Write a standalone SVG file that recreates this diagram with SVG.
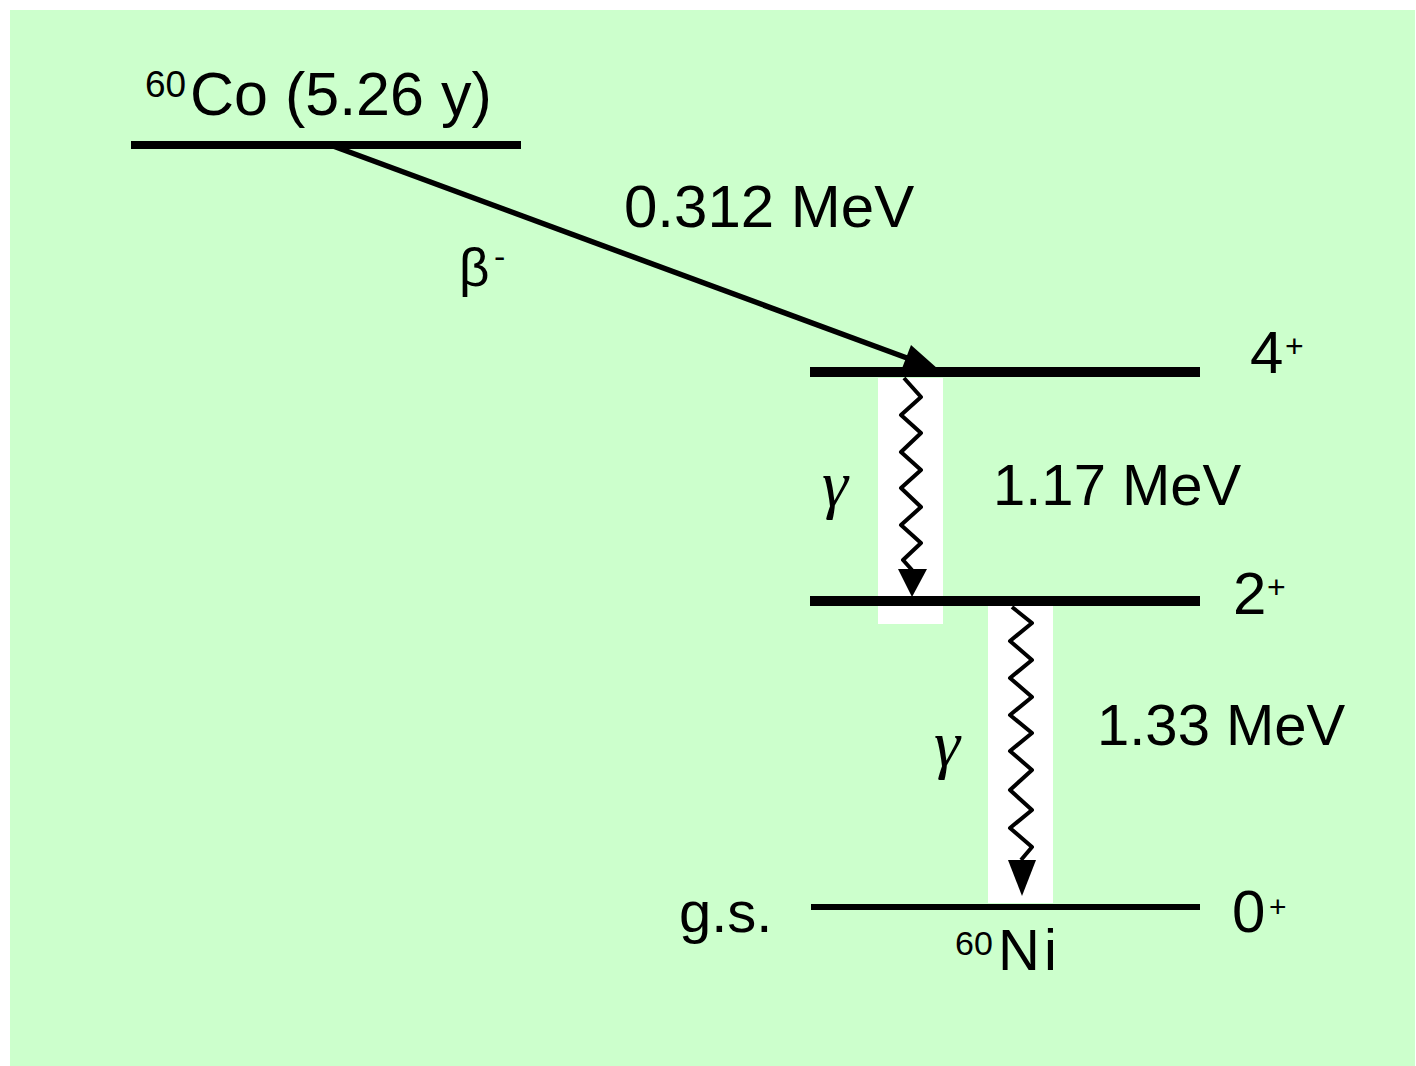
<svg xmlns="http://www.w3.org/2000/svg" width="1416" height="1066" viewBox="0 0 1416 1066">
<style>
.t{font-family:"Liberation Sans",Arial,sans-serif;fill:#000}
.g{font-family:"Liberation Serif","Times New Roman",serif;font-style:italic;fill:#000}
.lvl{stroke:#000;fill:none}
.wave{stroke:#000;stroke-width:4;fill:none;stroke-linejoin:round}
</style>
<rect x="0" y="0" width="1416" height="1066" fill="#ffffff"/>
<rect x="10" y="10" width="1405" height="1056" fill="#ccffcc"/>
<g id="bands">
<rect x="878" y="378" width="65" height="246" fill="#ffffff"/>
<rect x="988" y="606" width="65" height="297" fill="#ffffff"/>
</g>
<g id="co60">
<line class="lvl" x1="131" y1="145" x2="521" y2="145" stroke-width="8"/>
<text class="t" x="145" y="97" font-size="37">60</text>
<text class="t" x="190" y="115" font-size="61">Co (5.26 y)</text>
</g>
<g id="level4">
<line class="lvl" x1="810" y1="372" x2="1200" y2="372" stroke-width="10"/>
<text class="t" x="1250" y="373" font-size="60">4</text>
<text class="t" x="1285" y="357" font-size="32">+</text>
</g>
<g id="level2">
<line class="lvl" x1="810" y1="601" x2="1200" y2="601" stroke-width="10"/>
<text class="t" x="1233" y="614" font-size="60">2</text>
<text class="t" x="1267" y="598" font-size="32">+</text>
</g>
<g id="level0">
<line class="lvl" x1="811" y1="907" x2="1200" y2="907" stroke-width="6"/>
<text class="t" x="1232" y="932" font-size="60">0</text>
<text class="t" x="1269" y="917" font-size="30">+</text>
<text class="t" x="679" y="932" font-size="58">g.s.</text>
<text class="t" x="955" y="955" font-size="34">60</text>
<text class="t" x="998" y="970" font-size="58" letter-spacing="4">Ni</text>
</g>
<g id="connectors">
<line x1="333" y1="146" x2="907" y2="358" stroke="#000" stroke-width="5.5"/>
<polygon points="938,369 911,345 901,371" fill="#000"/>
<polyline class="wave" points="904,378 921,397 901,415 921,433 901,452 921,470 901,488 921,507 901,525 921,543 903,560 912,570"/>
<polygon points="898,569 927,569 912,597" fill="#000"/>
<polyline class="wave" points="1012,607 1032,623 1010,641 1032,660 1010,678 1032,697 1010,715 1032,733 1010,751 1032,770 1010,790 1032,810 1010,828 1032,847 1021,860"/>
<polygon points="1008,860 1036,860 1022,896" fill="#000"/>
</g>
<g id="labels">
<text class="t" x="624" y="227" font-size="60">0.312 MeV</text>
<text class="t" x="459" y="286" font-size="53">β</text>
<text class="t" x="494" y="268" font-size="34">-</text>
<text class="g" x="822" y="506" font-size="66">γ</text>
<text class="t" x="993" y="505" font-size="58">1.17 MeV</text>
<text class="g" x="934" y="766" font-size="66">γ</text>
<text class="t" x="1097" y="745" font-size="58">1.33 MeV</text>
</g>
</svg>
